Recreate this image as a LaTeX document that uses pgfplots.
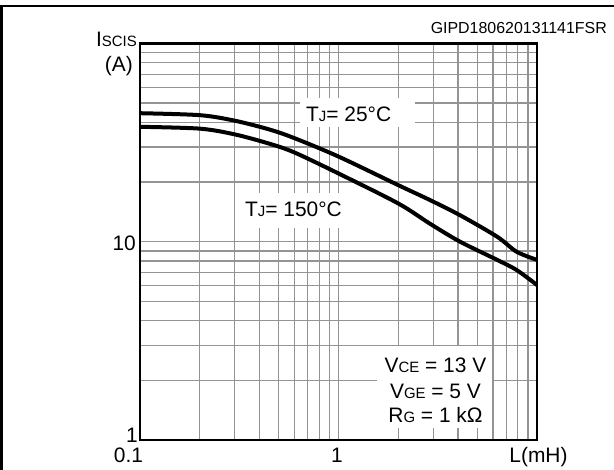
\documentclass[border=0pt]{standalone}
\usepackage{fontspec}
\setmainfont{Liberation Sans}
\usepackage{pgfplots}
\pgfplotsset{compat=1.18}

\newcommand{\sub}[1]{{\fontsize{15}{15}\selectfont #1}}
\newcommand{\lbl}{\fontsize{21}{25}\selectfont}

\begin{document}
\begin{tikzpicture}[x=1bp,y=1bp,font=\lbl]
\useasboundingbox (-140,-30) rectangle (474,440);
% outer frame (top and left only, rest cropped)
\draw[line width=2.5bp] (-138.5,-31) -- (-138.5,434) -- (475,434);

\begin{axis}[
    at={(0,0)}, anchor=south west,
    scale only axis, width=397bp, height=396.5bp,
    xmode=log, ymode=log,
    xmin=0.1, xmax=10, ymin=1, ymax=100,
    xtick={0.1,1,10}, ytick={1,10,100},
    minor xtick={0.2,0.3,0.4,0.5,0.6,0.7,0.8,0.9,2,3,4,5,6,7,8,9},
    minor ytick={2,3,4,5,6,7,8,9,20,30,40,50,60,70,80,90},
    xticklabels={,,}, yticklabels={,,},
    grid=both,
    major tick length=0, minor tick length=0,
    major grid style={black!42, line width=1.4bp},
    minor grid style={black!42, line width=1.4bp},
    axis line style={line width=2.5bp},
]
% TJ = 25 C
\addplot[line width=4bp, smooth, tension=0.5] coordinates {
    (0.1,44.5) (0.2,43.5) (0.3,40.8) (0.45,36.8) (0.6,33.3)
    (1.0,26.9) (2.0,19.3) (2.9,16.2) (4.1,13.6) (6.3,10.6) (7.9,8.9) (10,8.1)
};
% TJ = 150 C
\addplot[line width=4bp, smooth, tension=0.5] coordinates {
    (0.1,38.0) (0.2,37.2) (0.3,34.8) (0.45,31.2) (0.6,28.2)
    (1.0,22.1) (2.0,15.6) (2.9,12.3) (4.1,10.0) (6.3,8.1) (7.9,7.2) (10,6.05)
};
\end{axis}

% tick labels
\node[anchor=east, inner sep=0] at (-4,197) {10};
\node[anchor=east, inner sep=0] at (-2,4.5) {1};
\node[anchor=base, inner sep=0] at (-11.5,-22.5) {0.1};
\node[anchor=base, inner sep=0] at (197,-22.5) {1};
\node[anchor=base, inner sep=0] at (398.5,-22.5) {L(mH)};

% axis title
\node[anchor=base east, inner sep=0] at (-3,393) {I\sub{SCIS}};
\node[anchor=base east, inner sep=0] at (-7,368.5) {(A)};

% figure code
\node[anchor=base east, inner sep=0, font=\fontsize{16}{18}\selectfont] at (467,406.7) {GIPD180620131141FSR};

% curve labels
\fill[white] (160,313) rectangle (275,342);
\node[anchor=base west, inner sep=0] at (166,318.3) {T\sub{J}= 25°C};
\fill[white] (98,212) rectangle (210,247);
\node[anchor=base west, inner sep=0] at (105,223.3) {T\sub{J}= 150°C};

% test conditions
\fill[white] (237,12) rectangle (352,94);
\node[anchor=base, inner sep=0] at (295.5,67) {V\sub{CE} = 13 V};
\node[anchor=base, inner sep=0] at (295.5,41) {V\sub{GE} = 5 V};
\node[anchor=base, inner sep=0] at (295.5,17) {R\sub{G} = 1 kΩ};
\end{tikzpicture}
\end{document}
